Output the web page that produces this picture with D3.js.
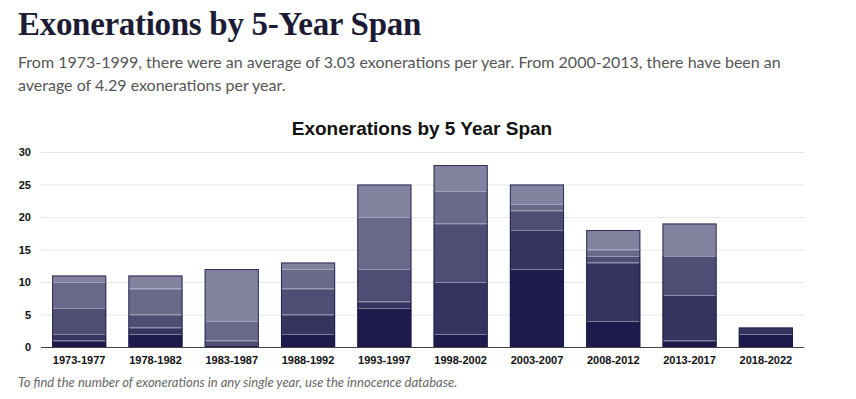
<!DOCTYPE html>
<html>
<head>
<meta charset="utf-8">
<script src="https://cdnjs.cloudflare.com/ajax/libs/d3/7.8.5/d3.min.js"></script>
<style>
  body { margin: 0; background: #fff; }
  .head { position: absolute; left: 18px; top: 0; }
  h1 { margin: 0; position: absolute; top: 6px; left: 0; white-space: nowrap;
       font-family: "Liberation Serif", serif; font-weight: bold; font-size: 33px;
       color: #1b1b33; letter-spacing: -0.3px; }
  .sub { position: absolute; top: 50px; left: 0; width: 800px;
         font-family: Lato, sans-serif; font-size: 16px; line-height: 23px; color: #555; }
  .note { position: absolute; left: 18px; top: 374px; white-space: nowrap;
          font-family: Lato, sans-serif; font-style: italic; font-size: 13px; color: #666; }
  svg { position: absolute; left: 0; top: 0; }
</style>
</head>
<body>
<div class="head">
  <h1>Exonerations by 5-Year Span</h1>
  <div class="sub">From 1973-1999, there were an average of 3.03 exonerations per year. From 2000-2013, there have been an average of 4.29 exonerations per year.</div>
</div>
<div id="canvas"></div>
<div class="note">To find the number of exonerations in any single year, use the innocence database.</div>
<script>
// spans and the count for each year inside the span (year 1..5)
var spans = ['1973-1977','1978-1982','1983-1987','1988-1992','1993-1997',
             '1998-2002','2003-2007','2008-2012','2013-2017','2018-2022'];
var year1 = [1, 2, 0, 2, 6, 2, 12, 4, 1, 2];
var year2 = [1, 1, 0, 3, 1, 8, 6, 9, 7, 1];
var year3 = [4, 2, 1, 4, 5, 9, 3, 1, 6, 0];
var year4 = [4, 4, 3, 3, 8, 5, 1, 1, 0, 0];
var year5 = [1, 2, 8, 1, 5, 4, 3, 3, 5, 0];
var yTicks = [0, 5, 10, 15, 20, 25, 30];
var colors = ['#1c1b4c', '#35345e', '#4e4d74', '#6a6989', '#83829e'];

var keys = ['y1','y2','y3','y4','y5'];
var rows = spans.map(function(s, i){
  return {span: s, y1: year1[i], y2: year2[i], y3: year3[i], y4: year4[i], y5: year5[i]};
});

var W = 856, H = 399;
var svg = d3.select('#canvas').append('svg')
    .attr('width', W)
    .attr('height', H);

var scaleX = d3.scaleBand()
    .domain(spans)
    .range([41, 804])
    .paddingInner(0.29)
    .paddingOuter(0.145);
var scaleY = d3.scaleLinear()
    .domain([0, 30])
    .range([347, 152]);

// chart title
svg.append('text')
    .attr('x', 422).attr('y', 135)
    .attr('text-anchor', 'middle')
    .style('font-family', '"Liberation Sans", Arial, sans-serif')
    .style('font-weight', 'bold')
    .style('font-size', '19px')
    .style('fill', '#111')
    .text('Exonerations by 5 Year Span');

// grid + y labels
var axisY = d3.axisLeft(scaleY)
    .tickValues(yTicks)
    .tickSize(-(804 - 41))
    .tickPadding(10);
var gy = svg.append('g')
    .attr('transform', 'translate(41,0)')
    .call(axisY);
gy.select('.domain').remove();
gy.selectAll('.tick line').attr('stroke', '#e6e6e6');
gy.selectAll('.tick text')
    .style('font-family', '"Liberation Sans", Arial, sans-serif')
    .style('font-weight', 'bold')
    .style('font-size', '11px')
    .style('fill', '#111');

// stacked bars
var stack = d3.stack().keys(keys)(rows);
var layers = svg.selectAll('g.layer')
    .data(stack)
    .enter()
    .append('g')
    .attr('class', 'layer')
    .attr('fill', function(d, i){ return colors[i]; });

layers.selectAll('rect')
    .data(function(d){ return d; })
    .enter()
    .append('rect')
    .attr('x', function(d){ return scaleX(d.data.span); })
    .attr('width', scaleX.bandwidth())
    .attr('y', function(d){ return scaleY(d[1]); })
    .attr('height', function(d){ return scaleY(d[0]) - scaleY(d[1]); });

// light separators between segments
layers.selectAll('line.sep')
    .data(function(d){ return d.filter(function(p){ return p[1] > p[0] && p[0] > 0; }); })
    .enter()
    .append('line')
    .attr('class', 'sep')
    .attr('x1', function(d){ return scaleX(d.data.span) + 1; })
    .attr('x2', function(d){ return scaleX(d.data.span) + scaleX.bandwidth() - 1; })
    .attr('y1', function(d){ return scaleY(d[0]) + 0.5; })
    .attr('y2', function(d){ return scaleY(d[0]) + 0.5; })
    .attr('stroke', 'rgba(210,210,230,0.55)')
    .attr('stroke-width', 1);

// dark outline per bar
svg.append('g').selectAll('rect')
    .data(rows)
    .enter()
    .append('rect')
    .attr('x', function(d){ return scaleX(d.span) + 0.5; })
    .attr('width', scaleX.bandwidth() - 1)
    .attr('y', function(d){ return scaleY(d.y1 + d.y2 + d.y3 + d.y4 + d.y5) + 0.5; })
    .attr('height', function(d){ return scaleY(0) - scaleY(d.y1 + d.y2 + d.y3 + d.y4 + d.y5) - 1; })
    .attr('fill', 'none')
    .attr('stroke', '#1c1b4c')
    .attr('stroke-opacity', 0.8);

// x axis
var axisX = d3.axisBottom(scaleX).tickSize(0).tickPadding(9);
var gx = svg.append('g')
    .attr('transform', 'translate(0,347)')
    .call(axisX);
gx.select('.domain').attr('stroke', '#444').attr('d', 'M41,0.5H804');
gx.selectAll('.tick text')
    .style('font-family', '"Liberation Sans", Arial, sans-serif')
    .style('font-weight', 'bold')
    .style('font-size', '11px')
    .style('fill', '#111');
</script>
</body>
</html>
